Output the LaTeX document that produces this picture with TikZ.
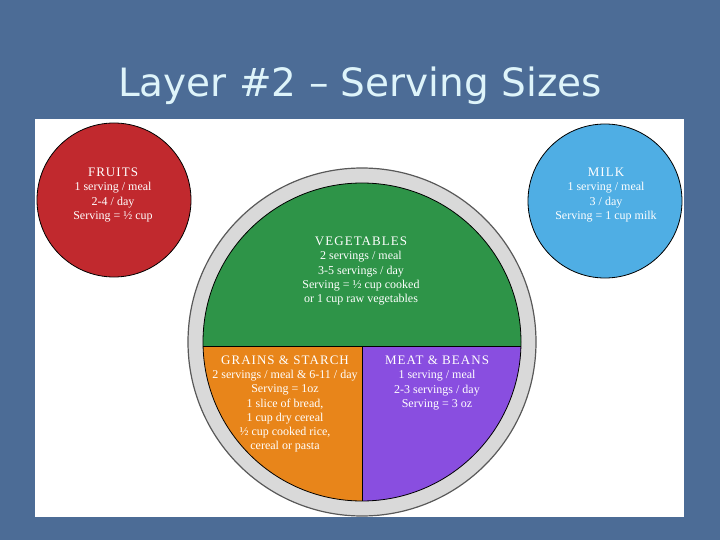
\documentclass[tikz,border=0pt]{standalone}
\usepackage{fontspec}
\setmainfont{Liberation Serif}
\newfontfamily\titlefont{DejaVu Sans}
\usepackage{tikz}

\definecolor{slideblue}{RGB}{76,108,150}
\definecolor{titlecyan}{RGB}{222,244,250}
\definecolor{fruitred}{RGB}{193,41,46}
\definecolor{milkblue}{RGB}{79,174,228}
\definecolor{veggreen}{RGB}{46,148,72}
\definecolor{grainorange}{RGB}{232,133,26}
\definecolor{meatpurple}{RGB}{137,78,224}
\definecolor{ringgray}{RGB}{217,217,217}

\newcommand{\foodheadfont}{\fontsize{13}{14.3}\selectfont\addfontfeatures{LetterSpace=8}}

\begin{document}
\begin{tikzpicture}[x=1pt,y=-1pt,
    foodtext/.style={text=white, align=center, inner sep=0pt,
        font=\fontsize{12}{14.3}\selectfont},
    foodcircle/.style={circle, draw=black, line width=0.8pt, minimum size=154pt, inner sep=0pt}]

        % slide and white panel
        \fill[slideblue] (0,0) rectangle (720,540);
        \useasboundingbox (0,0) rectangle (720,540);
        \fill[white] (35,119) rectangle (684,517);

        \node[text=titlecyan, font=\titlefont\fontsize{39}{44}\selectfont] (title) at (360,86)
            {Layer \#2 – Serving Sizes};

        % side circles
        \node[foodcircle, fill=fruitred] (fruits) at (114,200) {};
        \node[foodcircle, fill=milkblue] (milk) at (605,201) {};

        % plate
        \newcommand{\R}{159}
        \coordinate (c) at (362,342);
        \fill[ringgray, draw=gray!70!black, line width=1.2pt] (c) circle[radius=174];
        \begin{scope}
            \clip (c) circle[radius=\R];
            \fill[veggreen] (200,180) rectangle (525,346);
            \fill[grainorange] (200,346) rectangle (362,505);
            \fill[meatpurple] (362,346) rectangle (525,505);
        \end{scope}
        \draw[line width=0.8pt] (c) circle[radius=\R];
        \draw[line width=0.8pt] (203.05,346) -- (520.95,346);
        \draw[line width=0.8pt] (362,346) -- (362,501);

        % labels
        \node[foodtext] (fruitstext) at (113,195)
            {{\foodheadfont FRUITS}\\1 serving / meal\\2-4 / day\\Serving = ½ cup};
        \node[foodtext] (milktext) at (606,195)
            {{\foodheadfont MILK}\\1 serving / meal\\3 / day\\Serving = 1 cup milk};
        \node[foodtext] (vegtext) at (361,271)
            {{\foodheadfont VEGETABLES}\\2 servings / meal\\3-5 servings / day\\Serving = ½ cup cooked\\or 1 cup raw vegetables};
        \node[foodtext] (graintext) at (285,404)
            {{\foodheadfont GRAINS \& STARCH}\\2 servings / meal \& 6-11 / day\\Serving = 1oz\\1 slice of bread,\\1 cup dry cereal\\½ cup cooked rice,\\cereal or pasta};
        \node[foodtext] (meattext) at (437,383)
            {{\foodheadfont MEAT \& BEANS}\\1 serving / meal\\2-3 servings / day\\Serving = 3 oz};

    \end{tikzpicture}
\end{document}
